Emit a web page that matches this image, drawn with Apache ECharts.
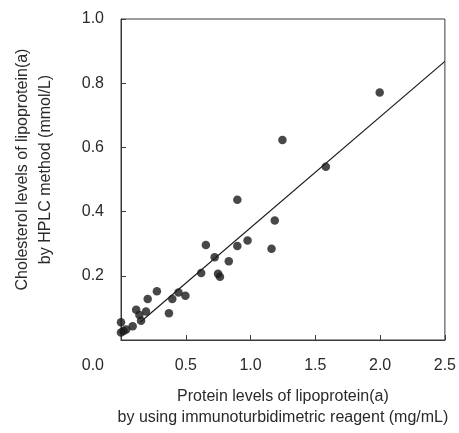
<!DOCTYPE html>
<html>
<head>
<meta charset="utf-8">
<script src="https://cdn.jsdelivr.net/npm/echarts@6/dist/echarts.min.js"></script>
<style>
html,body{margin:0;padding:0;background:#fff;}
#chart{width:459px;height:433px;}
</style>
</head>
<body>
<div id="chart"></div>
<script>
const proteinX = [0.0, 0.0, 0.02, 0.04, 0.09, 0.117, 0.142, 0.155, 0.193, 0.206, 0.277, 0.37, 0.396, 0.444, 0.497, 0.619, 0.655, 0.723, 0.749, 0.764, 0.832, 0.898, 0.898, 0.977, 1.162, 1.187, 1.246, 1.581, 1.997];
const cholesterolY = [0.055, 0.023, 0.028, 0.033, 0.043, 0.094, 0.078, 0.060, 0.089, 0.128, 0.152, 0.083, 0.128, 0.148, 0.138, 0.209, 0.296, 0.258, 0.206, 0.197, 0.245, 0.437, 0.293, 0.310, 0.284, 0.372, 0.623, 0.540, 0.771];
const fitX = [0.15, 2.5];
const fitY = [0.056, 0.868];
const xTicks = [0.5, 1.0, 1.5, 2.0, 2.5];
const yTicks = [0.0, 0.2, 0.4, 0.6, 0.8, 1.0];
const xTitle = 'Protein levels of lipoprotein(a)\nby using immunoturbidimetric reagent (mg/mL)';
const yTitle = 'Cholesterol levels of lipoprotein(a)\nby HPLC method (mmol/L)';

const font = 'Liberation Sans, Arial, Helvetica, sans-serif';
const txt = '#2a2a2a';
const axisCol = '#3a3a3a';

const chart = echarts.init(document.getElementById('chart'), null, {renderer: 'canvas'});
chart.setOption({
  animation: false,
  grid: {left: 121, right: 9, top: 19, bottom: 86, show: true, borderColor: axisCol, borderWidth: 1, backgroundColor: 'transparent'},
  xAxis: {
    type: 'value', min: 0, max: 2.5, interval: 0.5,
    axisLine: {show: true, lineStyle: {color: axisCol, width: 1}},
    axisTick: {show: true, inside: true, length: 5, lineStyle: {color: axisCol}},
    splitLine: {show: false},
    axisLabel: {
      margin: 18, color: txt, fontFamily: font, fontSize: 16,
      formatter: v => xTicks.some(t => Math.abs(t - v) < 1e-9) ? v.toFixed(1) : ''
    },
    name: xTitle, nameLocation: 'middle', nameGap: 46,
    nameTextStyle: {color: txt, fontFamily: font, fontSize: 16, lineHeight: 21}
  },
  yAxis: {
    type: 'value', min: 0, max: 1.0, interval: 0.2,
    axisLine: {show: true, lineStyle: {color: axisCol, width: 1}},
    axisTick: {show: true, inside: true, length: 5, lineStyle: {color: axisCol}},
    splitLine: {show: false},
    axisLabel: {
      margin: 17, color: txt, fontFamily: font, fontSize: 16,
      formatter: v => {
        if (!yTicks.some(t => Math.abs(t - v) < 1e-9)) return '';
        return Math.abs(v) < 1e-9 ? '{z|' + v.toFixed(1) + '}' : v.toFixed(1);
      },
      rich: {z: {color: txt, fontFamily: font, fontSize: 16, padding: [51, 0, 0, 0]}}
    },
    name: yTitle, nameLocation: 'middle', nameGap: 64,
    nameTextStyle: {color: txt, fontFamily: font, fontSize: 16, lineHeight: 23, padding: [0, 0, 0, 20]}
  },
  series: [
    {
      type: 'scatter', symbol: 'circle', symbolSize: 8.5,
      itemStyle: {color: '#1a1a1a'},
      data: proteinX.map((x, i) => [x, cholesterolY[i]]),
      z: 3
    },
    {
      type: 'line', symbol: 'none', silent: true,
      lineStyle: {color: '#1a1a1a', width: 1.2},
      data: fitX.map((x, i) => [x, fitY[i]]),
      z: 2
    }
  ]
});
</script>
</body>
</html>
